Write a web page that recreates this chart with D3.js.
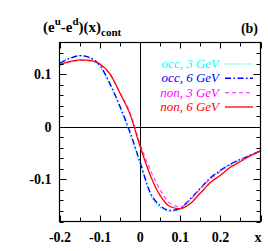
<!DOCTYPE html>
<html><head><meta charset="utf-8">
<script src="https://cdn.jsdelivr.net/npm/d3@7"></script>
<style>body{margin:0;background:#fff}svg{display:block}</style>
</head><body>
<script>
const xs = [-0.2,-0.175,-0.15,-0.125,-0.1,-0.075,-0.05,-0.025,0,0.025,0.05,0.075,0.1,0.125,0.15,0.175,0.2,0.225,0.25,0.275,0.3];
const occ3 = [0.122,0.131,0.135,0.130,0.114,0.079,0.035,-0.015,-0.072,-0.128,-0.153,-0.161,-0.156,-0.138,-0.117,-0.098,-0.083,-0.071,-0.062,-0.054,-0.046];
const occ6 = [0.121,0.130,0.135,0.131,0.116,0.081,0.038,-0.011,-0.068,-0.125,-0.150,-0.159,-0.155,-0.137,-0.117,-0.097,-0.083,-0.071,-0.062,-0.054,-0.046];
const non3 = [0.117,0.123,0.126,0.125,0.118,0.099,0.064,0.026,-0.033,-0.082,-0.120,-0.146,-0.152,-0.139,-0.118,-0.100,-0.085,-0.073,-0.063,-0.055,-0.046];
const non6 = [0.118,0.124,0.127,0.126,0.119,0.100,0.063,0.023,-0.038,-0.092,-0.131,-0.152,-0.156,-0.146,-0.126,-0.106,-0.092,-0.077,-0.066,-0.055,-0.046];
const seriesNames = ["occ, 3 GeV","occ, 6 GeV","non, 3 GeV","non, 6 GeV"];
const xTickLabels = [-0.2,-0.1,0,0.1,0.2];
const yTickLabels = [-0.1,0,0.1];

const W=268,H=251;
const L=59.5,R=260.5,T=42.5,B=221.5;
const svg=d3.select("body").append("svg").attr("width",W).attr("height",H);
const x=d3.scaleLinear().domain([-0.2,0.3]).range([L+0.5,R]);
const y=d3.scaleLinear().domain([-0.18,0.16]).range([B,T]);

const styles=[
 {c:"#00e8ff",d:"1.2,1.6",w:1.2},
 {c:"#0000ff",d:"6,2.5,1.5,2.5",w:1.4},
 {c:"#ff44ff",d:"4,3",w:1.2},
 {c:"#ff0000",d:null,w:1.3}
];
const data=[occ3,occ6,non3,non6];

const g=svg.append("g");
g.append("defs").append("clipPath").attr("id","cp").append("rect")
 .attr("x",L).attr("y",T).attr("width",R-L).attr("height",B-T);

// zero lines
g.append("line").attr("x1",L).attr("x2",R).attr("y1",Math.round(y(0))+0.5).attr("y2",Math.round(y(0))+0.5).attr("stroke","#000");
g.append("line").attr("y1",T).attr("y2",B).attr("x1",Math.round(x(0))+0.5).attr("x2",Math.round(x(0))+0.5).attr("stroke","#000");

// ticks
const tk=svg.append("g").attr("stroke","#000").attr("stroke-width",1);
d3.range(-0.2,0.3001,0.05).forEach(v=>{
  const px=Math.round(x(v))+0.5, len=(Math.abs(Math.round(v*20))%2===0)?6:4;
  tk.append("line").attr("x1",px).attr("x2",px).attr("y1",B).attr("y2",B-len);
  tk.append("line").attr("x1",px).attr("x2",px).attr("y1",T).attr("y2",T+len);
});
d3.range(-0.18,0.1601,0.02).forEach(v=>{
  const py=Math.round(y(v))+0.5, len=(Math.abs(Math.round(v*50))%5===0)?7:4;
  tk.append("line").attr("y1",py).attr("y2",py).attr("x1",L).attr("x2",L+len);
  tk.append("line").attr("y1",py).attr("y2",py).attr("x1",R).attr("x2",R-len);
});

// curves
const line=d3.line().x((d,i)=>x(xs[i])).y(d=>y(d)).curve(d3.curveMonotoneX);
data.forEach((s,k)=>{
  g.append("path").datum(s).attr("d",line).attr("fill","none")
   .attr("stroke",styles[k].c).attr("stroke-width",styles[k].w)
   .attr("stroke-dasharray",styles[k].d).attr("clip-path","url(#cp)");
});

// frame
svg.append("rect").attr("x",L).attr("y",T).attr("width",R-L).attr("height",B-T)
 .attr("fill","none").attr("stroke","#000").attr("stroke-width",1.2);

// tick labels
const font="'Liberation Serif','Times New Roman',serif";
xTickLabels.forEach(v=>{
  svg.append("text").attr("x",x(v)).attr("y",242).attr("text-anchor","middle")
   .attr("font-family",font).attr("font-weight","bold").attr("font-size",14)
   .text(v===0?"0":d3.format(".1f")(v).replace("−","-"));
});
yTickLabels.forEach(v=>{
  svg.append("text").attr("x",51.5).attr("y",y(v)+5).attr("text-anchor","end")
   .attr("font-family",font).attr("font-weight","bold").attr("font-size",14)
   .text(v===0?"0":d3.format(".1f")(v).replace("−","-"));
});
svg.append("text").attr("x",258).attr("y",242).attr("text-anchor","middle")
 .attr("font-family",font).attr("font-weight","bold").attr("font-size",14).text("x");

// title
const t=svg.append("text").attr("x",43).attr("y",32).attr("font-family",font)
 .attr("font-weight","bold").attr("font-size",15);
t.append("tspan").text("(e");
t.append("tspan").attr("font-size",11).attr("dy",-7).text("u");
t.append("tspan").attr("dy",7).text("-e");
t.append("tspan").attr("font-size",11).attr("dy",-7).text("d");
t.append("tspan").attr("dy",7).text(")(x)");
t.append("tspan").attr("font-size",11).attr("dy",4).text("cont");
svg.append("text").attr("x",258).attr("y",33).attr("text-anchor","end").attr("font-family",font)
 .attr("font-weight","bold").attr("font-size",14).text("(b)");

// legend
const textColors=["#00ffff","#0000ff","#ff00ff","#ff0000"];
const rows=[64,78.3,92.6,107];
seriesNames.forEach((n,k)=>{
  svg.append("text").attr("x",219).attr("y",rows[k]+4).attr("text-anchor","end")
   .attr("font-family",font).attr("font-style","italic").attr("font-size",13)
   .attr("fill",textColors[k]).text(n);
  svg.append("line").attr("x1",225).attr("x2",253).attr("y1",rows[k]).attr("y2",rows[k])
   .attr("stroke",styles[k].c).attr("stroke-width",styles[k].w).attr("stroke-dasharray",styles[k].d);
});
</script>
</body></html>
